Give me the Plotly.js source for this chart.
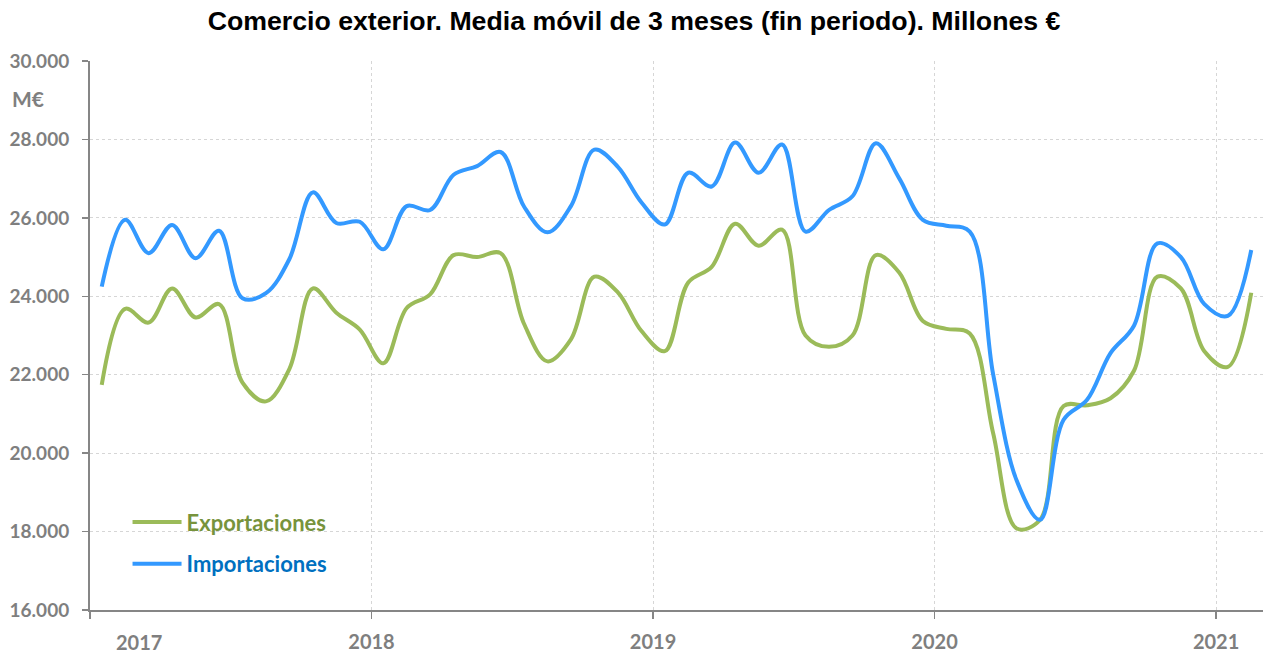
<!DOCTYPE html>
<html>
<head>
<meta charset="utf-8">
<script src="https://cdn.plot.ly/plotly-3.0.1.min.js"></script>
<style>html,body{margin:0;padding:0;background:#fff}#chart{width:1268px;height:658px}</style>
</head>
<body>
<div id="chart"></div>
<script>
// Months: Jan 2017 .. Feb 2021
const months = [
  '2017-01','2017-02','2017-03','2017-04','2017-05','2017-06','2017-07','2017-08','2017-09','2017-10','2017-11','2017-12',
  '2018-01','2018-02','2018-03','2018-04','2018-05','2018-06','2018-07','2018-08','2018-09','2018-10','2018-11','2018-12',
  '2019-01','2019-02','2019-03','2019-04','2019-05','2019-06','2019-07','2019-08','2019-09','2019-10','2019-11','2019-12',
  '2020-01','2020-02','2020-03','2020-04','2020-05','2020-06','2020-07','2020-08','2020-09','2020-10','2020-11','2020-12',
  '2021-01','2021-02'
];
const exportaciones = [
  21740,23680,23330,24200,23460,23800,21800,21320,22150,24200,23580,23150,
  22290,23700,24050,25050,25000,25100,23300,22340,22900,24500,24100,23120,
  22600,24350,24750,25850,25290,25700,23000,22710,23000,25050,24600,23370,
  23170,23050,20500,18080,18300,21200,21220,21400,22100,24500,24200,22600,
  22200,24090
];
const importaciones = [
  24245,25950,25100,25820,24970,25670,23950,24080,24950,26650,25870,25900,
  25200,26300,26200,27100,27320,27680,26290,25630,26300,27740,27300,26400,
  25830,27150,26800,27920,27150,27870,25650,26200,26550,27900,27000,25950,
  25800,25650,22000,19300,18300,20850,21360,22550,23250,25350,25000,23800,
  23500,25180
];
const yearTicks = ['2017','2018','2019','2020','2021'];
const yTicks = [16000,18000,20000,22000,24000,26000,28000,30000];

const xIdx = months.map((m, i) => i);
// year boundaries (between December and January)
const yearBoundaryIdx = months.map((m, i) => i).filter(i => months[i].endsWith('-01')).map(i => i - 0.5);

const font = 'Lato, "Open Sans", sans-serif';
const grey = '#7f7f7f';

const traces = [
  {
    x: xIdx, y: exportaciones, type: 'scatter', mode: 'lines',
    name: '<b><span style="color:#77933c">Exportaciones</span></b>',
    line: {color: '#9bbb59', width: 4, shape: 'spline', smoothing: 1},
    legendgroup: 'a'
  },
  {
    x: xIdx, y: importaciones, type: 'scatter', mode: 'lines',
    name: '<b><span style="color:#0070c0">Importaciones</span></b>',
    line: {color: '#3399ff', width: 4, shape: 'spline', smoothing: 1},
    legendgroup: 'b'
  }
];

const layout = {
  width: 1268, height: 658,
  margin: {l: 90, r: 5, t: 61, b: 48},
  paper_bgcolor: '#ffffff', plot_bgcolor: '#ffffff',
  separators: ',.',
  title: {
    text: '<b>Comercio exterior. Media móvil de 3 meses (fin periodo). Millones €</b>',
    font: {family: '"Liberation Sans", Arial, sans-serif', size: 26.7, color: '#000000'},
    x: 0.5, xanchor: 'center', y: 1 - 21/658, yanchor: 'middle'
  },
  xaxis: {
    type: 'linear',
    range: [-0.5, months.length - 0.5],
    tickmode: 'array',
    tickvals: yearBoundaryIdx,
    ticktext: yearTicks.map((t, i) => i === 0 ? '' : '<b>' + t + '</b>'),
    ticks: 'outside', ticklen: 7, tickwidth: 1.5, tickcolor: '#868686',
    showline: true, linecolor: '#868686', linewidth: 2,
    showgrid: true, gridcolor: '#d6d6d6', griddash: 'dot', gridwidth: 1,
    zeroline: false,
    tickfont: {family: font, size: 20, color: grey},
    ticklabelstandoff: 6
  },
  yaxis: {
    range: [16000, 30000],
    tickmode: 'array', tickvals: yTicks,
    ticktext: yTicks.map(v => '<b>' + v.toLocaleString('de-DE') + '</b>'),
    ticks: 'outside', ticklen: 6, tickwidth: 1.5, tickcolor: '#868686',
    showline: true, linecolor: '#868686', linewidth: 2,
    showgrid: true, gridcolor: '#d6d6d6', griddash: 'dot', gridwidth: 1,
    zeroline: false,
    tickfont: {family: font, size: 19, color: grey},
    ticklabelstandoff: 9
  },
  showlegend: true,
  legend: {
    x: 0.032, y: 0.198, xanchor: 'left', yanchor: 'top',
    bgcolor: 'rgba(0,0,0,0)',
    font: {family: font, size: 22},
    itemwidth: 49,
    traceorder: 'grouped',
    tracegroupgap: 10
  },
  annotations: [
    {
      text: '<b>M€</b>', xref: 'paper', yref: 'paper', x: -0.0525, y: 1 - (98 - 61) / 549,
      xanchor: 'center', yanchor: 'middle', showarrow: false,
      font: {family: font, size: 21, color: grey}
    },
    {
      text: '<b>' + yearTicks[0] + '</b>', xref: 'x', yref: 'paper', x: 1.58, y: 0,
      xanchor: 'center', yanchor: 'top', yshift: -18, showarrow: false,
      font: {family: font, size: 20, color: grey}
    }
  ]
};

Plotly.newPlot('chart', traces, layout, {displayModeBar: false, staticPlot: true});
</script>
</body>
</html>
